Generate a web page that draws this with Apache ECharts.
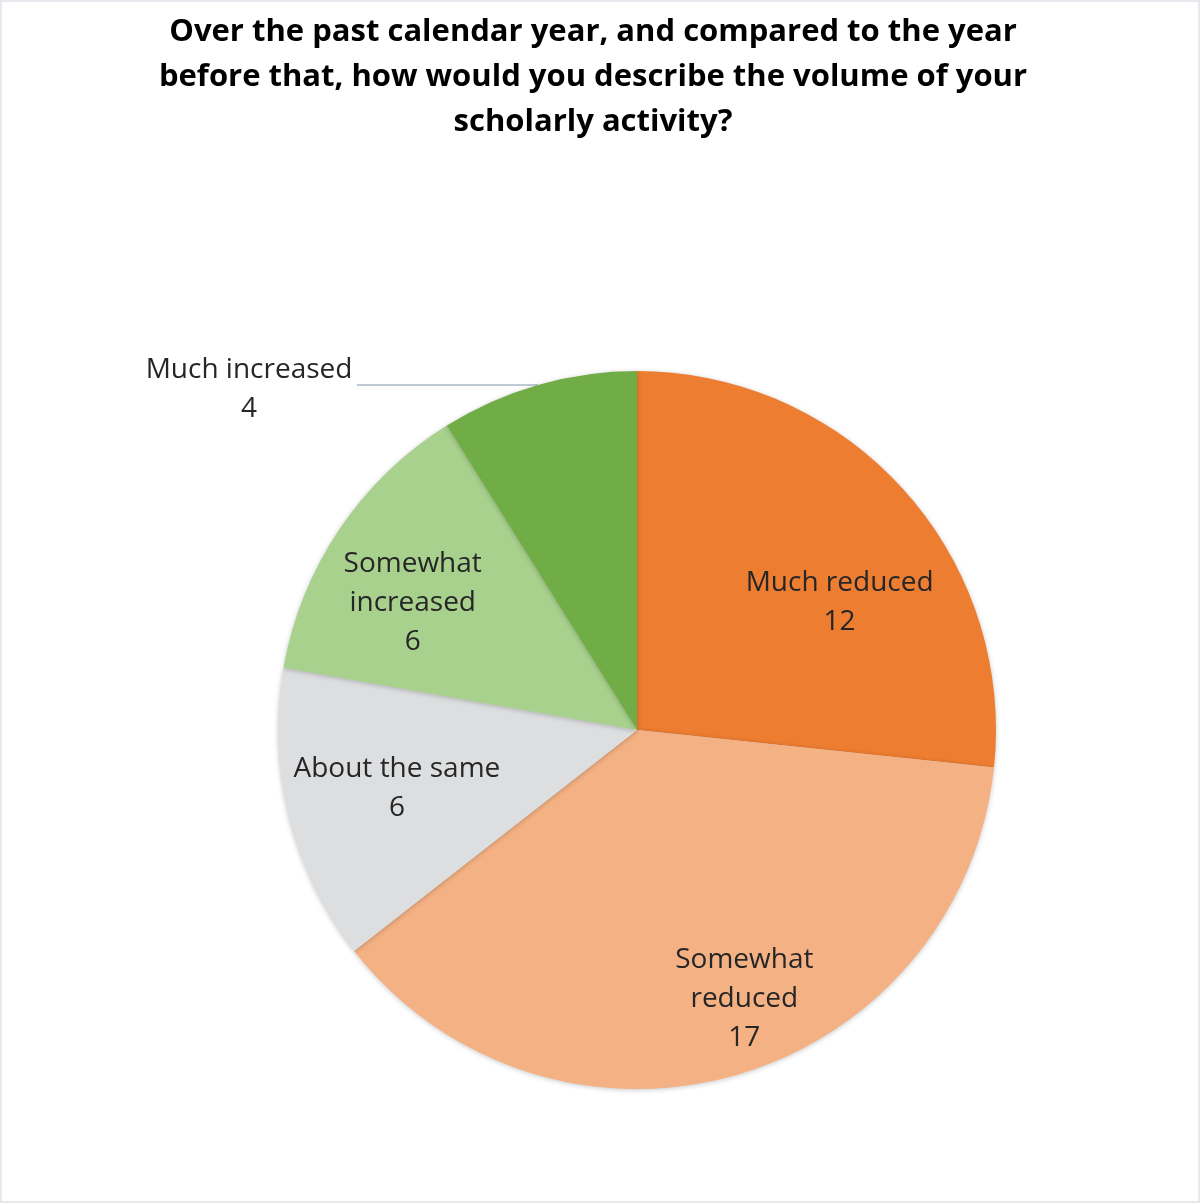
<!DOCTYPE html>
<html>
<head>
<meta charset="utf-8">
<script src="https://cdn.jsdelivr.net/npm/echarts@6/dist/echarts.min.js"></script>
<style>
  html, body { margin: 0; padding: 0; background: #ffffff; }
  #chart { width: 1200px; height: 1203px; outline: 2px solid #E6E9EE; outline-offset: -2px; }
</style>
</head>
<body>
<div id="chart"></div>
<script>
// Survey answers and respondent counts
const categories = ['Much reduced', 'Somewhat reduced', 'About the same', 'Somewhat increased', 'Much increased'];
const counts = [12, 17, 6, 6, 4];
const colors = ['#ED7D31', '#F4B183', '#DDDEE0', '#A9D18E', '#70AD47'];
// How each category name is wrapped inside its label
const labelLines = [['Much reduced'], ['Somewhat', 'reduced'], ['About the same'], ['Somewhat', 'increased'], ['Much increased']];

const titleText = 'Over the past calendar year, and compared to the year\nbefore that, how would you describe the volume of your\nscholarly activity?';

// Nudges that move the inside labels off the half-radius ring
const labelNudge = [[67, -5], [57, 94], [-63, 14], [-73, -25], [0, 0]];

const FONT = '"Open Sans", sans-serif';
const LABEL_SIZE = 28;

const chart = echarts.init(document.getElementById('chart'));

const data = categories.map((name, i) => {
  const item = { name: name, value: counts[i], itemStyle: { color: colors[i] } };
  if (i === 4) {
    item.label = {
      position: 'outside',
      formatter: p => '{t|' + labelLines[p.dataIndex].join('') + '}\n{t|' + p.value + '}',
      rich: { t: { width: 206, align: 'center', fontSize: LABEL_SIZE, lineHeight: 39, color: '#262626', fontFamily: FONT, padding: [10, 0, 0, 0] } }
    };
    item.labelLine = { show: true, length: 0, length2: 181, lineStyle: { color: '#A9B7C9', width: 1.5 } };
  }
  return item;
});

chart.setOption({
  animation: false,
  title: {
    text: titleText,
    left: 588,
    top: 5,
    textAlign: 'center',
    textStyle: { fontFamily: FONT, fontWeight: 'bold', fontSize: 31, lineHeight: 45, color: '#000000' }
  },
  series: [{
    type: 'pie',
    center: [637, 730],
    radius: [0, 359],
    startAngle: 90,
    clockwise: true,
    avoidLabelOverlap: false,
    itemStyle: {
      borderWidth: 0,
      shadowBlur: 5,
      shadowColor: 'rgba(0,0,0,0.22)',
      shadowOffsetY: 1
    },
    label: {
      show: true,
      position: 'inside',
      formatter: p => labelLines[p.dataIndex].join('\n') + '\n' + p.value,
      fontFamily: FONT,
      fontSize: LABEL_SIZE,
      lineHeight: 39,
      color: '#262626'
    },
    labelLine: { show: false },
    labelLayout: p => ({ dx: labelNudge[p.dataIndex][0], dy: labelNudge[p.dataIndex][1] }),
    emphasis: { disabled: true },
    data: data
  }]
});
</script>
</body>
</html>
